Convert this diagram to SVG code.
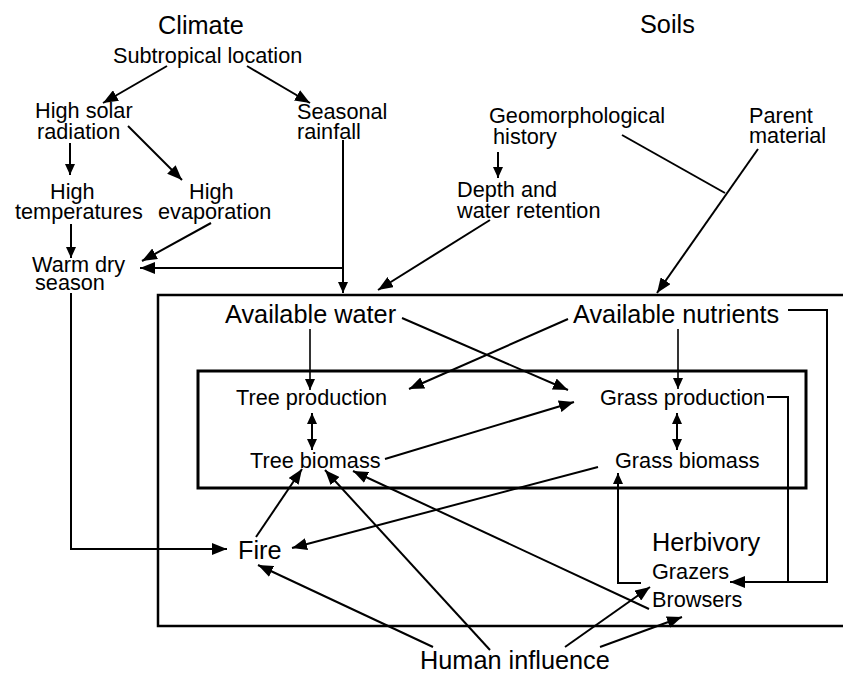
<svg xmlns="http://www.w3.org/2000/svg" width="843" height="675" viewBox="0 0 843 675">
<defs>
<marker id="ah" markerUnits="userSpaceOnUse" markerWidth="15" markerHeight="12" refX="15" refY="6" orient="auto-start-reverse">
<path d="M0,0 L15,6 L0,12 z" fill="#000"/>
</marker>
<marker id="as" markerUnits="userSpaceOnUse" markerWidth="11" markerHeight="10" refX="11" refY="5" orient="auto-start-reverse">
<path d="M0,0 L11,5 L0,10 z" fill="#000"/>
</marker>
</defs>
<style>
text{font-family:"Liberation Sans",Arial,sans-serif;fill:#000}
.b{font-size:25.3px}
.m{font-size:21.7px}
.c line,.c polyline{stroke:#000;stroke-width:2;fill:none}
.a{marker-end:url(#ah)}
.s{marker-end:url(#as)}
.d{marker-start:url(#as);marker-end:url(#as)}
.box{fill:none;stroke:#000}
</style>
<rect width="843" height="675" fill="#fff"/>
<g id="outer-box"><rect class="box" x="158" y="295" width="700" height="331" stroke-width="2.5"/></g>
<g id="inner-box"><rect class="box" x="198" y="371" width="608" height="117" stroke-width="3"/></g>
<g id="climate"><text class="b" x="158" y="34">Climate</text></g>
<g id="soils"><text class="b" x="640" y="33">Soils</text></g>
<g id="subtropical"><text class="m" x="113" y="63">Subtropical location</text></g>
<g id="solar"><text class="m" x="35" y="118">High solar</text><text class="m" x="37" y="139">radiation</text></g>
<g id="temps"><text class="m" x="50" y="199">High</text><text class="m" x="15" y="219">temperatures</text></g>
<g id="evap"><text class="m" x="189" y="199">High</text><text class="m" x="158" y="219">evaporation</text></g>
<g id="rainfall"><text class="m" x="297" y="119">Seasonal</text><text class="m" x="297" y="139">rainfall</text></g>
<g id="warm"><text class="m" x="32" y="272">Warm dry</text><text class="m" x="35" y="290">season</text></g>
<g id="geomorph"><text class="m" x="489" y="123">Geomorphological</text><text class="m" x="493" y="144">history</text></g>
<g id="depth"><text class="m" x="457" y="197">Depth and</text><text class="m" x="457" y="218">water retention</text></g>
<g id="parent"><text class="m" x="749" y="123">Parent</text><text class="m" x="749" y="143">material</text></g>
<g id="water"><text class="b" x="225" y="323">Available water</text></g>
<g id="nutrients"><text class="b" x="573" y="323">Available nutrients</text></g>
<g id="tree-prod"><text class="m" x="236" y="405">Tree production</text></g>
<g id="grass-prod"><text class="m" x="600" y="405">Grass production</text></g>
<g id="tree-bio"><text class="m" x="250" y="468">Tree biomass</text></g>
<g id="grass-bio"><text class="m" x="615" y="468">Grass biomass</text></g>
<g id="fire"><text class="b" x="238" y="559">Fire</text></g>
<g id="herbivory"><text class="b" x="652" y="551">Herbivory</text><text class="m" x="652" y="579">Grazers</text><text class="m" x="652" y="607">Browsers</text></g>
<g id="human"><text class="b" x="420" y="669">Human influence</text></g>
<g id="connectors" class="c">
<line class="a" x1="167" y1="66" x2="103" y2="103"/>
<line class="a" x1="247" y1="66" x2="310" y2="103"/>
<line class="s" x1="70" y1="143" x2="70" y2="175"/>
<line class="a" x1="128" y1="126" x2="182" y2="180"/>
<line class="s" x1="71" y1="224" x2="71" y2="258"/>
<line class="a" x1="211" y1="223" x2="142" y2="261"/>
<line class="s" x1="343" y1="140" x2="343" y2="293"/>
<line class="a" x1="344" y1="268" x2="140" y2="268"/>
<line class="s" x1="498" y1="152" x2="498" y2="178"/>
<line class="a" x1="490" y1="220" x2="378" y2="290"/>
<line x1="622" y1="135" x2="725" y2="193"/>
<line class="a" x1="758" y1="149" x2="657" y2="293"/>
<polyline class="a" points="71,293 71,549 227,549"/>
<line class="s" x1="310" y1="329" x2="310" y2="390" style="stroke-width:1.6"/>
<line class="a" x1="402" y1="318" x2="568" y2="390"/>
<line class="a" x1="568" y1="319" x2="409" y2="389"/>
<line class="s" x1="678" y1="329" x2="678" y2="389" style="stroke-width:1.6"/>
<line class="d" x1="312" y1="413" x2="312" y2="450"/>
<line class="d" x1="677" y1="413" x2="677" y2="450"/>
<line class="a" x1="385" y1="459" x2="574" y2="402"/>
<polyline class="a" points="788,310 827,310 827,582 730,582"/>
<polyline points="767,397 788,397 788,582"/>
<polyline class="s" points="641,583 618,583 618,473"/>
<line class="a" x1="598" y1="467" x2="292" y2="548"/>
<line class="a" x1="256" y1="537" x2="302" y2="469"/>
<line class="a" x1="490" y1="650" x2="325" y2="470"/>
<line class="a" x1="649" y1="609" x2="353" y2="471"/>
<line class="a" x1="433" y1="647" x2="258" y2="565"/>
<line class="a" x1="565" y1="647" x2="650" y2="587"/>
<line class="a" x1="600" y1="647" x2="682" y2="617"/>
</g>
</svg>
